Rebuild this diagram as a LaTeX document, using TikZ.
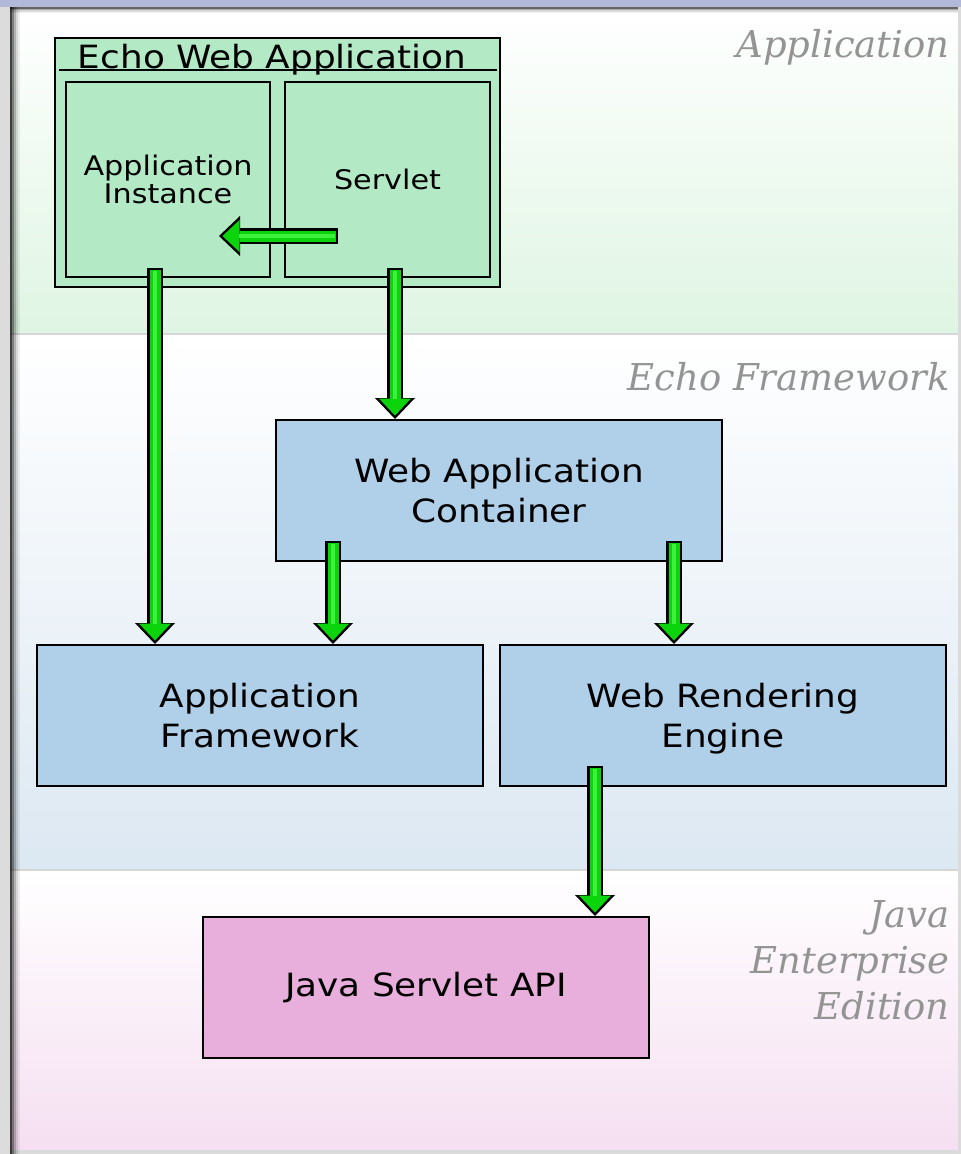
\documentclass[tikz,border=0pt]{standalone}
\usepackage{fontspec}
\setmainfont{DejaVu Sans}[FakeStretch=1.12]
\newfontfamily\layerfont{DejaVu Serif}
\usetikzlibrary{arrows.meta,calc}
\definecolor{appgreen}{HTML}{B3E9C4}
\definecolor{fwblue}{HTML}{B0CFE9}
\definecolor{jeepink}{HTML}{E8AFDC}
\definecolor{flowgreen}{HTML}{0CD40C}
\definecolor{flowlight}{HTML}{3CF03C}
\definecolor{appband}{HTML}{DFF5E3}
\definecolor{fwband}{HTML}{DCE8F2}
\definecolor{jeeband}{HTML}{F5DFF1}
\definecolor{topbar}{HTML}{B4B8D8}
\definecolor{strip}{HTML}{DCDCDC}

\begin{document}
\begin{tikzpicture}[x=1pt,y=-1pt,
box/.style={draw, line width=2pt, align=center, inner sep=0pt},
big/.style={box, fill=fwblue, minimum width=446pt, minimum height=141pt, font=\fontsize{32}{40}\selectfont},
inner/.style={box, fill=appgreen, minimum height=195pt, font=\fontsize{27}{28}\selectfont},
layer/.style={text=black!42, font=\layerfont\itshape\fontsize{37}{46}\selectfont, align=right, inner sep=0pt},
flow/.style={draw=flowgreen, line width=11pt, shorten >=3.5pt, shorten <=2pt,
  -{Triangle[width=32pt,length=17pt,line width=0pt]},
  preaction={draw=black, line width=15.5pt, shorten >=0pt, shorten <=0pt,
  -{Triangle[width=40pt,length=21pt,line width=0pt]}},
  postaction={draw=flowlight, line width=4pt, -, shorten >=20pt, shorten <=3pt}},
]
\useasboundingbox (0,0) rectangle (961,1154);
% frame and layers
\fill[topbar] (0,0) rectangle (961,7);
\fill[strip] (0,7) rectangle (10,1154);
\shade[top color=white, bottom color=appband] (10,7) rectangle (958,333);
\shade[top color=white, bottom color=fwband] (10,335) rectangle (958,869);
\shade[top color=white, bottom color=jeeband] (10,871) rectangle (958,1150);
\draw[black!16, line width=2pt] (10,334) -- (958,334);
\draw[black!16, line width=2pt] (10,870) -- (958,870);
\fill[black!14] (958,7) rectangle (961,1154);
\fill[black!14] (10,1150) rectangle (961,1154);
\foreach \i/\o in {0/.75,2/.5,4/.3,6/.15,8/.06}
  \fill[black, opacity=\o] (10+\i,7) rectangle (12+\i,1154);
\foreach \i/\o in {0/.6,1.5/.35,3/.15,4.5/.05}
  \fill[black, opacity=\o] (10,7+\i) rectangle (958,8.5+\i);

\node (LA) [layer, anchor=base east] at (950,57) {Application};
\node (LF) [layer, anchor=base east] at (950,390) {Echo Framework};
\node (LJ) [layer, anchor=east] at (950,960) {Java\\Enterprise\\Edition};

% boxes
\node (EWA) [box, fill=appgreen, minimum width=445pt, minimum height=249pt] at (277.5,162.5) {};
\node (EWAt) [anchor=base, inner sep=0pt, font=\fontsize{32}{36}\selectfont] at (272,68) {Echo Web Application};
\draw[line width=2pt] ([xshift=5pt,yshift=-33pt]EWA.north west) -- ([xshift=-4pt,yshift=-33pt]EWA.north east);
\node (AI) [inner, minimum width=204pt] at (168,179.5) {Application\\Instance};
\node (SV) [inner, minimum width=205pt] at (387.5,179.5) {Servlet};
\node (WAC) [big] at (499,490.5) {Web Application\\Container};
\node (AF) [big] at (260,715.5) {Application\\Framework};
\node (WRE) [big, text depth=0pt] at (723,715.5) {Web Rendering\\Engine};
\node (JSA) [big, fill=jeepink] at (426,987.5) {Java Servlet API};

% flows
\coordinate (h1) at (338,236);
\coordinate (h2) at (219,236);
\coordinate (s1) at (155,268);
\coordinate (s2) at (395,268);
\coordinate (s3) at (333,541);
\coordinate (s4) at (674,541);
\coordinate (s5) at (595,766);
\draw[flow] (h1) -- (h2);
\draw[flow] (s1) -- (s1 |- AF.north);
\draw[flow] (s2) -- (s2 |- WAC.north);
\draw[flow] (s3) -- (s3 |- AF.north);
\draw[flow] (s4) -- (s4 |- WRE.north);
\draw[flow] (s5) -- (s5 |- JSA.north);
\end{tikzpicture}
\end{document}
